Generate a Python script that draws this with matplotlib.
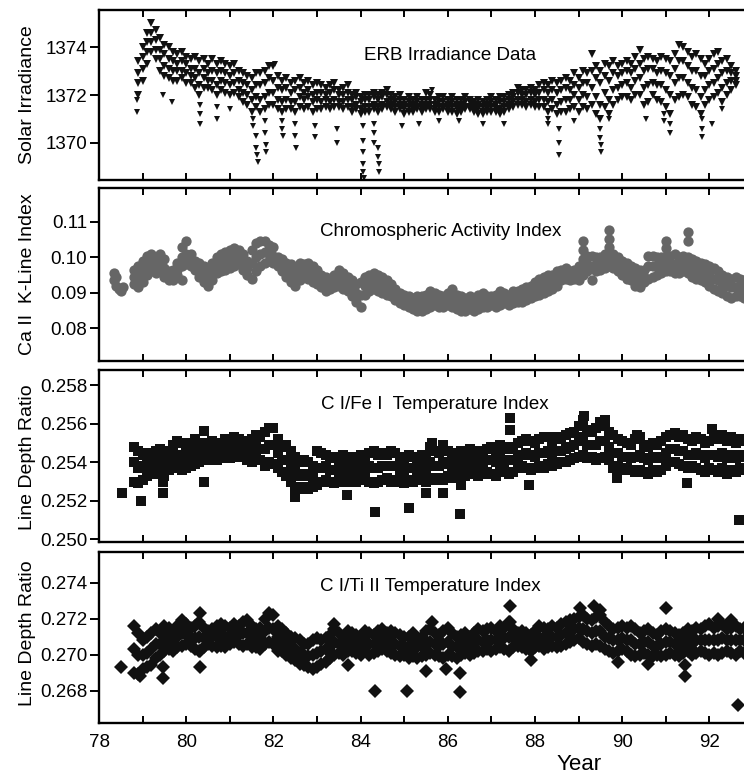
import numpy as np
import matplotlib
matplotlib.use('Agg')
import matplotlib.pyplot as plt

plt.rcParams['font.family'] = ['Liberation Sans', 'DejaVu Sans']

# ---------------- datos ----------------
# Panel 1: irradiancia ERB (muestreo cada 0.1 anyo, cuatro "franjas" de puntos)
erb_year = np.round(np.arange(78.9, 92.65, 0.1), 1)
erb_hi = [1373.4, 1374.0, 1374.6, 1375.0, 1374.7, 1374.4, 1374.1, 1374.0, 1373.8, 1373.7,
          1373.8, 1373.6, 1373.5, 1373.6, 1373.4, 1373.5, 1373.3, 1373.5, 1373.3, 1373.4,
          1373.3, 1373.2, 1373.3, 1373.0, 1372.9, 1372.8, 1372.7, 1372.9, 1372.9, 1373.0,
          1373.2, 1373.2, 1372.8, 1372.6, 1372.7, 1372.5, 1372.6, 1372.7, 1372.5, 1372.6,
          1372.4, 1372.5, 1372.4, 1372.3, 1372.4, 1372.5, 1372.2, 1372.3, 1372.4, 1372.0,
          1372.1, 1371.9, 1372.0, 1372.0, 1372.1, 1372.0, 1372.1, 1372.2, 1372.0, 1371.9,
          1372.0, 1371.8, 1371.9, 1371.8, 1371.9, 1371.8, 1372.1, 1372.0, 1371.8, 1371.9,
          1371.9, 1371.8, 1371.9, 1371.8, 1371.8, 1371.9, 1371.8, 1371.7, 1371.8, 1371.7,
          1371.8, 1371.9, 1371.8, 1371.9, 1371.9, 1372.0, 1372.1, 1372.3, 1372.2, 1372.2,
          1372.3, 1372.2, 1372.4, 1372.5, 1372.4, 1372.6, 1372.5, 1372.6, 1372.7, 1372.6,
          1372.9, 1372.7, 1373.0, 1372.9, 1373.7, 1373.2, 1373.0, 1373.3, 1373.2, 1373.4,
          1373.2, 1373.3, 1373.4, 1373.3, 1373.6, 1373.9, 1373.5, 1373.6, 1373.5, 1373.4,
          1373.6, 1373.5, 1373.4, 1373.7, 1374.1, 1374.0, 1373.8, 1373.6, 1373.7, 1373.5,
          1373.3, 1373.5, 1373.7, 1373.8, 1373.4, 1373.5, 1373.2, 1373.0]
erb_u = [1372.9, 1373.6, 1374.2, 1374.6, 1374.3, 1373.9, 1373.7, 1373.5, 1373.4, 1373.3,
         1373.4, 1373.3, 1373.1, 1373.1, 1372.9, 1373.1, 1372.9, 1373.0, 1372.9, 1373.0,
         1372.9, 1372.8, 1372.9, 1372.6, 1372.5, 1372.4, 1372.2, 1372.4, 1372.4, 1372.5,
         1372.7, 1372.6, 1372.3, 1372.2, 1372.3, 1372.1, 1372.2, 1372.3, 1372.1, 1372.2,
         1372.0, 1372.1, 1372.1, 1372.0, 1372.1, 1372.2, 1372.0, 1372.0, 1372.1, 1371.8,
         1371.9, 1371.7, 1371.8, 1371.8, 1371.9, 1371.8, 1371.9, 1372.0, 1371.8, 1371.7,
         1371.8, 1371.6, 1371.7, 1371.6, 1371.7, 1371.6, 1371.8, 1371.8, 1371.6, 1371.7,
         1371.7, 1371.6, 1371.7, 1371.6, 1371.6, 1371.7, 1371.7, 1371.6, 1371.6, 1371.5,
         1371.6, 1371.7, 1371.6, 1371.7, 1371.7, 1371.8, 1371.9, 1372.1, 1372.0, 1372.0,
         1372.1, 1372.0, 1372.1, 1372.2, 1372.1, 1372.2, 1372.1, 1372.2, 1372.3, 1372.2,
         1372.4, 1372.3, 1372.5, 1372.5, 1373.0, 1372.7, 1372.5, 1372.8, 1372.6, 1372.9,
         1372.8, 1372.9, 1373.0, 1372.9, 1373.1, 1373.3, 1373.0, 1373.1, 1373.1, 1372.9,
         1373.0, 1372.9, 1372.8, 1373.1, 1373.4, 1373.4, 1373.2, 1373.0, 1373.0, 1372.8,
         1372.8, 1373.0, 1373.1, 1373.3, 1372.9, 1373.0, 1372.9, 1372.8]
erb_l = [1372.5, 1373.1, 1373.8, 1374.2, 1373.9, 1373.5, 1373.2, 1373.1, 1373.0, 1373.0,
         1373.0, 1372.9, 1372.8, 1372.7, 1372.4, 1372.7, 1372.6, 1372.6, 1372.4, 1372.6,
         1372.5, 1372.4, 1372.5, 1372.2, 1372.1, 1372.0, 1371.8, 1371.9, 1371.8, 1371.9,
         1372.1, 1372.1, 1371.8, 1371.7, 1371.8, 1371.7, 1371.7, 1371.9, 1371.8, 1371.9,
         1371.7, 1371.8, 1371.7, 1371.8, 1371.7, 1371.8, 1371.7, 1371.7, 1371.8, 1371.5,
         1371.6, 1371.4, 1371.5, 1371.5, 1371.6, 1371.5, 1371.6, 1371.7, 1371.6, 1371.5,
         1371.6, 1371.4, 1371.5, 1371.4, 1371.5, 1371.4, 1371.6, 1371.6, 1371.4, 1371.5,
         1371.5, 1371.4, 1371.5, 1371.4, 1371.4, 1371.5, 1371.5, 1371.4, 1371.4, 1371.3,
         1371.4, 1371.5, 1371.4, 1371.4, 1371.5, 1371.6, 1371.7, 1371.8, 1371.8, 1371.7,
         1371.8, 1371.7, 1371.8, 1371.8, 1371.7, 1371.8, 1371.6, 1371.7, 1371.8, 1371.8,
         1372.0, 1371.8, 1372.0, 1371.9, 1372.3, 1371.9, 1371.6, 1372.1, 1371.8, 1372.2,
         1372.3, 1372.4, 1372.5, 1372.3, 1372.6, 1372.7, 1372.3, 1372.4, 1372.5, 1372.4,
         1372.4, 1372.2, 1372.0, 1372.5, 1372.7, 1372.7, 1372.5, 1372.3, 1372.2, 1371.9,
         1372.2, 1372.4, 1372.5, 1372.7, 1372.3, 1372.5, 1372.6, 1372.6]
erb_lo = [1372.0, 1372.6, 1373.3, 1373.8, 1373.5, 1373.0, 1372.8, 1372.7, 1372.6, 1372.6,
          1372.7, 1372.5, 1372.5, 1372.3, 1372.0, 1372.3, 1372.3, 1372.2, 1372.0, 1372.2,
          1372.1, 1372.0, 1372.1, 1371.9, 1371.7, 1371.6, 1371.3, 1371.5, 1371.3, 1371.4,
          1371.6, 1371.6, 1371.4, 1371.3, 1371.4, 1371.4, 1371.3, 1371.5, 1371.4, 1371.5,
          1371.3, 1371.4, 1371.4, 1371.5, 1371.4, 1371.5, 1371.5, 1371.4, 1371.5, 1371.3,
          1371.4, 1371.2, 1371.3, 1371.3, 1371.4, 1371.3, 1371.4, 1371.5, 1371.4, 1371.3,
          1371.4, 1371.2, 1371.3, 1371.3, 1371.4, 1371.3, 1371.4, 1371.4, 1371.3, 1371.3,
          1371.4, 1371.3, 1371.3, 1371.2, 1371.3, 1371.4, 1371.4, 1371.3, 1371.2, 1371.2,
          1371.3, 1371.3, 1371.3, 1371.2, 1371.3, 1371.4, 1371.5, 1371.6, 1371.6, 1371.5,
          1371.6, 1371.5, 1371.5, 1371.5, 1371.3, 1371.4, 1371.2, 1371.3, 1371.3, 1371.4,
          1371.5, 1371.3, 1371.5, 1371.4, 1371.6, 1371.2, 1371.0, 1371.5, 1371.2, 1371.6,
          1371.8, 1371.9, 1371.9, 1371.8, 1372.0, 1372.0, 1371.6, 1371.7, 1372.0, 1371.8,
          1371.7, 1371.5, 1371.2, 1371.8, 1371.9, 1372.0, 1371.9, 1371.6, 1371.5, 1371.2,
          1371.6, 1371.8, 1371.9, 1372.1, 1371.7, 1372.0, 1372.2, 1372.4]
# caidas (manchas solares) y picos sueltos
erb_dip_x = [78.87, 78.87, 79.47, 79.67, 80.32, 80.32, 80.32, 80.70, 80.70, 81.00,
             81.53, 81.53, 81.60, 81.60, 81.62, 81.65, 81.80, 81.80, 81.82, 81.82,
             82.04, 82.20, 82.20, 82.22, 82.50, 82.50, 82.52, 82.95, 82.95, 83.46,
             83.46, 84.05, 84.05, 84.05, 84.06, 84.06, 84.07, 84.30, 84.30, 84.30,
             84.40, 84.40, 84.42, 84.42, 84.95, 85.34, 85.64, 85.80, 86.26, 86.80,
             87.30, 88.30, 88.30, 88.55, 88.55, 88.56, 88.90, 89.50, 89.50, 89.52,
             89.52, 89.70, 90.55, 90.95, 90.95, 91.10, 91.10, 91.83, 91.83, 91.84,
             92.06, 92.29]
erb_dip_y = [1371.8, 1371.3, 1372.0, 1371.7, 1371.6, 1371.2, 1370.8, 1371.5, 1371.0, 1371.4,
             1371.0, 1370.7, 1370.3, 1369.8, 1369.5, 1369.2, 1370.9, 1370.4, 1369.9, 1369.6,
             1373.3, 1370.9, 1370.6, 1370.3, 1370.8, 1370.3, 1369.8, 1370.7, 1370.25, 1370.6,
             1370.0, 1370.7, 1370.1, 1369.6, 1369.1, 1368.8, 1368.55, 1370.8, 1370.4, 1370.0,
             1369.8, 1369.4, 1369.1, 1368.8, 1370.7, 1370.8, 1372.2, 1370.9, 1370.9, 1370.8,
             1370.8, 1371.0, 1370.8, 1370.6, 1370.0, 1369.5, 1370.9, 1370.6, 1370.2, 1369.9,
             1369.6, 1371.0, 1371.0, 1371.2, 1370.9, 1370.8, 1370.4, 1371.0, 1370.6, 1370.25,
             1370.8, 1371.4]

# Paneles 2-4: muestreo cada 0.1 anyo de 78.8 a 92.8
idx_year = np.round(np.arange(78.8, 92.85, 0.1), 1)

# Panel 2: indice de la linea K del Ca II
ca_hi = [0.0965, 0.0975, 0.0990, 0.1005, 0.1010, 0.1000, 0.1010, 0.0995, 0.0960, 0.0965,
         0.0985, 0.1030, 0.1045, 0.1010, 0.0990, 0.0985, 0.0975, 0.0965, 0.0985, 0.1000,
         0.1010, 0.1015, 0.1020, 0.1025, 0.1020, 0.1010, 0.0990, 0.1020, 0.1040, 0.1045,
         0.1045, 0.1035, 0.1030, 0.1000, 0.0995, 0.0985, 0.0980, 0.0970, 0.0985, 0.0980,
         0.0985, 0.0975, 0.0965, 0.0950, 0.0945, 0.0940, 0.0950, 0.0965, 0.0955, 0.0945,
         0.0935, 0.0925, 0.0930, 0.0945, 0.0950, 0.0955, 0.0950, 0.0945, 0.0935, 0.0925,
         0.0910, 0.0900, 0.0895, 0.0890, 0.0885, 0.0890, 0.0890, 0.0895, 0.0905, 0.0900,
         0.0895, 0.0890, 0.0900, 0.0910, 0.0895, 0.0890, 0.0885, 0.0890, 0.0885, 0.0895,
         0.0900, 0.0890, 0.0890, 0.0895, 0.0905, 0.0900, 0.0895, 0.0905, 0.0905, 0.0910,
         0.0915, 0.0920, 0.0930, 0.0940, 0.0945, 0.0950, 0.0950, 0.0960, 0.0965, 0.0970,
         0.0960, 0.0965, 0.0975, 0.0995, 0.1005, 0.1005, 0.1000, 0.1000, 0.1010, 0.1010,
         0.1010, 0.1000, 0.0990, 0.0985, 0.0975, 0.0970, 0.0965, 0.0965, 0.1005, 0.1005,
         0.1000, 0.1000, 0.1005, 0.1005, 0.1010, 0.1000, 0.1005, 0.1000, 0.0995, 0.0990,
         0.0985, 0.0980, 0.0975, 0.0970, 0.0960, 0.0950, 0.0945, 0.0940, 0.0945, 0.0940,
         0.0935]
ca_mid = [0.0945, 0.0945, 0.0960, 0.0975, 0.0985, 0.0975, 0.0985, 0.0970, 0.0945, 0.0950,
          0.0965, 0.1000, 0.1010, 0.0990, 0.0980, 0.0965, 0.0955, 0.0945, 0.0960, 0.0975,
          0.0985, 0.0990, 0.0995, 0.1000, 0.1000, 0.0985, 0.0970, 0.0985, 0.1000, 0.1010,
          0.1015, 0.1010, 0.1005, 0.0990, 0.0975, 0.0965, 0.0955, 0.0945, 0.0960, 0.0960,
          0.0960, 0.0950, 0.0945, 0.0930, 0.0925, 0.0925, 0.0930, 0.0940, 0.0930, 0.0925,
          0.0910, 0.0900, 0.0895, 0.0920, 0.0925, 0.0930, 0.0925, 0.0920, 0.0915, 0.0905,
          0.0895, 0.0885, 0.0880, 0.0875, 0.0870, 0.0870, 0.0870, 0.0875, 0.0880, 0.0880,
          0.0875, 0.0875, 0.0880, 0.0885, 0.0875, 0.0870, 0.0865, 0.0870, 0.0865, 0.0875,
          0.0880, 0.0875, 0.0875, 0.0880, 0.0885, 0.0885, 0.0880, 0.0885, 0.0890, 0.0890,
          0.0895, 0.0900, 0.0910, 0.0915, 0.0920, 0.0925, 0.0930, 0.0940, 0.0950, 0.0955,
          0.0950, 0.0950, 0.0955, 0.0970, 0.0980, 0.0970, 0.0980, 0.0985, 0.0990, 0.0990,
          0.0990, 0.0980, 0.0970, 0.0960, 0.0955, 0.0945, 0.0940, 0.0945, 0.0975, 0.0975,
          0.0975, 0.0980, 0.0980, 0.0985, 0.0980, 0.0975, 0.0980, 0.0975, 0.0970, 0.0965,
          0.0960, 0.0955, 0.0950, 0.0940, 0.0935, 0.0925, 0.0920, 0.0915, 0.0915, 0.0915,
          0.0910]
ca_lo = [0.0925, 0.0915, 0.0930, 0.0950, 0.0960, 0.0955, 0.0960, 0.0945, 0.0935, 0.0935,
         0.0950, 0.0975, 0.0980, 0.0975, 0.0965, 0.0945, 0.0930, 0.0920, 0.0935, 0.0955,
         0.0960, 0.0965, 0.0970, 0.0975, 0.0980, 0.0965, 0.0950, 0.0940, 0.0960, 0.0975,
         0.0985, 0.0990, 0.0985, 0.0975, 0.0960, 0.0945, 0.0930, 0.0920, 0.0935, 0.0945,
         0.0940, 0.0930, 0.0925, 0.0915, 0.0905, 0.0910, 0.0915, 0.0920, 0.0910, 0.0905,
         0.0890, 0.0875, 0.0860, 0.0895, 0.0905, 0.0910, 0.0905, 0.0900, 0.0895, 0.0890,
         0.0880, 0.0870, 0.0865, 0.0860, 0.0855, 0.0850, 0.0850, 0.0855, 0.0860, 0.0865,
         0.0860, 0.0860, 0.0865, 0.0860, 0.0855, 0.0850, 0.0850, 0.0855, 0.0850, 0.0855,
         0.0860, 0.0860, 0.0865, 0.0860, 0.0865, 0.0870, 0.0865, 0.0870, 0.0875, 0.0875,
         0.0880, 0.0885, 0.0890, 0.0895, 0.0900, 0.0905, 0.0910, 0.0920, 0.0935, 0.0940,
         0.0935, 0.0940, 0.0935, 0.0950, 0.0960, 0.0935, 0.0960, 0.0965, 0.0970, 0.0975,
         0.0970, 0.0960, 0.0950, 0.0940, 0.0935, 0.0920, 0.0915, 0.0930, 0.0940, 0.0945,
         0.0950, 0.0955, 0.0960, 0.0960, 0.0955, 0.0955, 0.0960, 0.0955, 0.0945, 0.0940,
         0.0935, 0.0930, 0.0920, 0.0910, 0.0905, 0.0900, 0.0890, 0.0885, 0.0890, 0.0890,
         0.0885]
ca_extra_x = [78.35, 78.35, 78.40, 78.40, 78.45, 78.50, 78.55, 89.10, 89.10, 89.70,
              89.70, 89.70, 91.00, 91.00, 91.50, 91.50, 79.90]
ca_extra_y = [0.0955, 0.0935, 0.0945, 0.0920, 0.0910, 0.0905, 0.0915, 0.1045, 0.1020, 0.1077,
              0.1052, 0.1030, 0.1045, 0.1025, 0.1070, 0.1047, 0.0937]

# Panel 3: cociente C I / Fe I
fe_hi = [0.2548, 0.2546, 0.2544, 0.2545, 0.2543, 0.2546, 0.2547, 0.2545, 0.2546, 0.2549,
         0.2551, 0.2550, 0.2548, 0.2550, 0.2552, 0.2549, 0.2550, 0.2548, 0.2551, 0.2549,
         0.2550, 0.2552, 0.2551, 0.2553, 0.2552, 0.2551, 0.2550, 0.2552, 0.2554, 0.2553,
         0.2556, 0.2558, 0.2558, 0.2552, 0.2548, 0.2549, 0.2546, 0.2543, 0.2540, 0.2541,
         0.2540, 0.2538, 0.2546, 0.2545, 0.2544, 0.2542, 0.2543, 0.2540, 0.2544, 0.2542,
         0.2543, 0.2541, 0.2544, 0.2542, 0.2545, 0.2546, 0.2544, 0.2545, 0.2544, 0.2546,
         0.2545, 0.2543, 0.2541, 0.2544, 0.2543, 0.2542, 0.2544, 0.2543, 0.2548, 0.2546,
         0.2545, 0.2549, 0.2546, 0.2543, 0.2545, 0.2546, 0.2544, 0.2547, 0.2546, 0.2545,
         0.2546, 0.2547, 0.2548, 0.2546, 0.2549, 0.2547, 0.2548, 0.2547, 0.2550, 0.2551,
         0.2552, 0.2551, 0.2550, 0.2552, 0.2553, 0.2553, 0.2551, 0.2553, 0.2552, 0.2554,
         0.2555, 0.2556, 0.2559, 0.2562, 0.2557, 0.2556, 0.2558, 0.2561, 0.2559, 0.2556,
         0.2554, 0.2552, 0.2551, 0.2550, 0.2549, 0.2552, 0.2553, 0.2549, 0.2548, 0.2550,
         0.2549, 0.2551, 0.2553, 0.2554, 0.2555, 0.2553, 0.2554, 0.2552, 0.2551, 0.2553,
         0.2552, 0.2550, 0.2551, 0.2553, 0.2552, 0.2554, 0.2551, 0.2553, 0.2550, 0.2552,
         0.2551]
fe_mid = [0.2540, 0.2537, 0.2538, 0.2539, 0.2538, 0.2541, 0.2540, 0.2539, 0.2541, 0.2543,
          0.2544, 0.2543, 0.2542, 0.2544, 0.2546, 0.2544, 0.2545, 0.2544, 0.2546, 0.2545,
          0.2546, 0.2548, 0.2546, 0.2548, 0.2548, 0.2547, 0.2545, 0.2546, 0.2548, 0.2547,
          0.2547, 0.2549, 0.2549, 0.2545, 0.2541, 0.2541, 0.2538, 0.2535, 0.2533, 0.2534,
          0.2533, 0.2532, 0.2537, 0.2537, 0.2538, 0.2536, 0.2536, 0.2535, 0.2538, 0.2536,
          0.2537, 0.2535, 0.2538, 0.2536, 0.2538, 0.2537, 0.2537, 0.2538, 0.2538, 0.2538,
          0.2538, 0.2536, 0.2535, 0.2537, 0.2537, 0.2537, 0.2538, 0.2536, 0.2540, 0.2538,
          0.2538, 0.2540, 0.2539, 0.2538, 0.2539, 0.2540, 0.2538, 0.2541, 0.2540, 0.2539,
          0.2540, 0.2541, 0.2541, 0.2540, 0.2542, 0.2541, 0.2541, 0.2541, 0.2543, 0.2544,
          0.2545, 0.2544, 0.2543, 0.2545, 0.2545, 0.2546, 0.2544, 0.2546, 0.2546, 0.2547,
          0.2548, 0.2549, 0.2551, 0.2553, 0.2549, 0.2549, 0.2549, 0.2551, 0.2551, 0.2548,
          0.2545, 0.2545, 0.2543, 0.2543, 0.2542, 0.2543, 0.2544, 0.2542, 0.2541, 0.2543,
          0.2542, 0.2543, 0.2545, 0.2547, 0.2547, 0.2546, 0.2546, 0.2544, 0.2544, 0.2545,
          0.2544, 0.2542, 0.2544, 0.2544, 0.2543, 0.2545, 0.2542, 0.2544, 0.2542, 0.2544,
          0.2543]
fe_lo = [0.2530, 0.2529, 0.2531, 0.2533, 0.2534, 0.2535, 0.2534, 0.2533, 0.2536, 0.2537,
         0.2538, 0.2536, 0.2537, 0.2538, 0.2539, 0.2540, 0.2541, 0.2541, 0.2542, 0.2541,
         0.2542, 0.2543, 0.2542, 0.2543, 0.2544, 0.2543, 0.2541, 0.2540, 0.2542, 0.2541,
         0.2538, 0.2540, 0.2539, 0.2537, 0.2535, 0.2533, 0.2530, 0.2527, 0.2526, 0.2527,
         0.2526, 0.2527, 0.2528, 0.2530, 0.2531, 0.2530, 0.2529, 0.2530, 0.2532, 0.2530,
         0.2531, 0.2530, 0.2532, 0.2531, 0.2530, 0.2529, 0.2530, 0.2531, 0.2532, 0.2530,
         0.2531, 0.2530, 0.2529, 0.2531, 0.2530, 0.2532, 0.2531, 0.2530, 0.2532, 0.2531,
         0.2532, 0.2531, 0.2533, 0.2532, 0.2533, 0.2534, 0.2533, 0.2535, 0.2534, 0.2533,
         0.2534, 0.2535, 0.2534, 0.2533, 0.2535, 0.2536, 0.2534, 0.2535, 0.2537, 0.2538,
         0.2537, 0.2536, 0.2537, 0.2538, 0.2537, 0.2539, 0.2538, 0.2539, 0.2540, 0.2540,
         0.2541, 0.2542, 0.2543, 0.2544, 0.2542, 0.2543, 0.2541, 0.2542, 0.2543, 0.2541,
         0.2537, 0.2538, 0.2536, 0.2537, 0.2536, 0.2535, 0.2536, 0.2535, 0.2534, 0.2536,
         0.2535, 0.2536, 0.2538, 0.2540, 0.2540, 0.2539, 0.2538, 0.2537, 0.2538, 0.2537,
         0.2536, 0.2535, 0.2537, 0.2536, 0.2535, 0.2537, 0.2534, 0.2536, 0.2535, 0.2537,
         0.2536]
fe_extra_x = [78.53, 78.96, 79.47, 79.47, 80.40, 80.40, 82.50, 83.68, 84.33, 85.10,
              85.50, 85.64, 85.90, 86.28, 86.30, 87.43, 87.43, 87.86, 89.12, 89.60,
              89.88, 90.35, 91.49, 92.06, 92.68]
fe_extra_y = [0.2524, 0.2520, 0.2530, 0.2524, 0.25565, 0.2530, 0.2522, 0.2523, 0.2514, 0.2516,
              0.2524, 0.2550, 0.2524, 0.2513, 0.2528, 0.2563, 0.2557, 0.2528, 0.2564, 0.2562,
              0.2532, 0.2554, 0.2529, 0.25575, 0.2510]

# Panel 4: cociente C I / Ti II
ti_hi = [0.2716, 0.2712, 0.2708, 0.2710, 0.2712, 0.2714, 0.2712, 0.2711, 0.2715, 0.2712,
         0.2716, 0.2719, 0.2717, 0.2715, 0.2716, 0.2718, 0.2715, 0.2713, 0.2714, 0.2716,
         0.2717, 0.2716, 0.2715, 0.2717, 0.2716, 0.2718, 0.2719, 0.2716, 0.2714, 0.2715,
         0.2720, 0.2723, 0.2722, 0.2716, 0.2714, 0.2712, 0.2710, 0.2709, 0.2708, 0.2706,
         0.2706, 0.2708, 0.2709, 0.2708, 0.2709, 0.2711, 0.2714, 0.2712, 0.2710, 0.2713,
         0.2712, 0.2711, 0.2710, 0.2713, 0.2712, 0.2711, 0.2713, 0.2714, 0.2712, 0.2713,
         0.2712, 0.2711, 0.2710, 0.2710, 0.2712, 0.2709, 0.2710, 0.2713, 0.2714, 0.2712,
         0.2711, 0.2713, 0.2715, 0.2712, 0.2710, 0.2711, 0.2712, 0.2710, 0.2712, 0.2714,
         0.2713, 0.2714, 0.2715, 0.2713, 0.2716, 0.2715, 0.2718, 0.2714, 0.2712, 0.2713,
         0.2712, 0.2711, 0.2713, 0.2716, 0.2715, 0.2714, 0.2716, 0.2715, 0.2717, 0.2718,
         0.2719, 0.2720, 0.2721, 0.2722, 0.2720, 0.2719, 0.2721, 0.2722, 0.2718, 0.2716,
         0.2714, 0.2715, 0.2716, 0.2715, 0.2716, 0.2714, 0.2712, 0.2713, 0.2714, 0.2712,
         0.2711, 0.2713, 0.2714, 0.2713, 0.2712, 0.2711, 0.2712, 0.2714, 0.2713, 0.2715,
         0.2714, 0.2716, 0.2717, 0.2715, 0.2716, 0.2717, 0.2714, 0.2715, 0.2716, 0.2714,
         0.2715]
ti_mid = [0.2703, 0.2700, 0.2700, 0.2701, 0.2703, 0.2706, 0.2706, 0.2707, 0.2709, 0.2707,
          0.2710, 0.2712, 0.2711, 0.2710, 0.2709, 0.2710, 0.2709, 0.2709, 0.2710, 0.2710,
          0.2711, 0.2710, 0.2711, 0.2712, 0.2711, 0.2712, 0.2712, 0.2710, 0.2709, 0.2709,
          0.2713, 0.2715, 0.2714, 0.2710, 0.2708, 0.2706, 0.2704, 0.2703, 0.2701, 0.2700,
          0.2699, 0.2700, 0.2701, 0.2702, 0.2703, 0.2704, 0.2707, 0.2706, 0.2705, 0.2707,
          0.2707, 0.2706, 0.2705, 0.2707, 0.2706, 0.2706, 0.2707, 0.2708, 0.2707, 0.2707,
          0.2706, 0.2705, 0.2705, 0.2704, 0.2705, 0.2704, 0.2705, 0.2706, 0.2707, 0.2706,
          0.2705, 0.2706, 0.2707, 0.2705, 0.2704, 0.2705, 0.2706, 0.2705, 0.2706, 0.2708,
          0.2707, 0.2708, 0.2708, 0.2708, 0.2710, 0.2709, 0.2710, 0.2709, 0.2708, 0.2708,
          0.2707, 0.2707, 0.2708, 0.2710, 0.2709, 0.2709, 0.2710, 0.2710, 0.2711, 0.2712,
          0.2713, 0.2714, 0.2715, 0.2714, 0.2713, 0.2712, 0.2713, 0.2713, 0.2710, 0.2709,
          0.2708, 0.2708, 0.2709, 0.2708, 0.2708, 0.2706, 0.2706, 0.2707, 0.2707, 0.2705,
          0.2705, 0.2706, 0.2707, 0.2707, 0.2706, 0.2705, 0.2706, 0.2708, 0.2706, 0.2708,
          0.2708, 0.2708, 0.2708, 0.2708, 0.2708, 0.2709, 0.2708, 0.2708, 0.2708, 0.2708,
          0.2708]
ti_lo = [0.2690, 0.2689, 0.2692, 0.2693, 0.2694, 0.2698, 0.2700, 0.2702, 0.2703, 0.2702,
         0.2704, 0.2705, 0.2706, 0.2705, 0.2703, 0.2702, 0.2704, 0.2706, 0.2705, 0.2704,
         0.2705, 0.2704, 0.2706, 0.2707, 0.2706, 0.2705, 0.2706, 0.2704, 0.2704, 0.2703,
         0.2706, 0.2707, 0.2706, 0.2704, 0.2702, 0.2700, 0.2698, 0.2697, 0.2695, 0.2694,
         0.2693, 0.2692, 0.2693, 0.2695, 0.2696, 0.2698, 0.2700, 0.2701, 0.2700, 0.2702,
         0.2702, 0.2701, 0.2700, 0.2702, 0.2700, 0.2701, 0.2702, 0.2703, 0.2702, 0.2701,
         0.2700, 0.2699, 0.2700, 0.2698, 0.2699, 0.2698, 0.2699, 0.2700, 0.2701, 0.2700,
         0.2699, 0.2698, 0.2700, 0.2699, 0.2698, 0.2700, 0.2701, 0.2700, 0.2701, 0.2702,
         0.2702, 0.2703, 0.2702, 0.2703, 0.2704, 0.2703, 0.2702, 0.2704, 0.2705, 0.2704,
         0.2703, 0.2702, 0.2704, 0.2705, 0.2703, 0.2704, 0.2705, 0.2704, 0.2705, 0.2706,
         0.2707, 0.2708, 0.2709, 0.2707, 0.2706, 0.2705, 0.2706, 0.2705, 0.2703, 0.2702,
         0.2701, 0.2702, 0.2703, 0.2702, 0.2700, 0.2699, 0.2700, 0.2701, 0.2700, 0.2699,
         0.2700, 0.2699, 0.2700, 0.2701, 0.2700, 0.2699, 0.2701, 0.2702, 0.2700, 0.2701,
         0.2702, 0.2701, 0.2700, 0.2701, 0.2700, 0.2701, 0.2702, 0.2701, 0.2700, 0.2702,
         0.2701]
ti_extra_x = [78.50, 78.94, 79.47, 79.47, 79.50, 80.32, 80.32, 80.32, 82.10, 83.40,
              83.70, 84.33, 85.06, 85.50, 85.64, 85.95, 86.28, 86.28, 87.43, 87.43,
              87.90, 89.03, 89.35, 89.50, 89.90, 90.60, 91.00, 91.44, 91.44, 92.66,
              92.20, 92.50]
ti_extra_y = [0.2693, 0.2688, 0.2693, 0.2687, 0.2716, 0.2723, 0.2702, 0.2693, 0.2702, 0.2717,
              0.2694, 0.2680, 0.2680, 0.2691, 0.2718, 0.2692, 0.2690, 0.2679, 0.2727, 0.2718,
              0.2697, 0.2726, 0.2727, 0.2725, 0.2696, 0.2695, 0.2726, 0.2694, 0.2688, 0.2672,
              0.2720, 0.2719]

# ---------------- figura ----------------
fig = plt.figure(figsize=(7.44, 7.76), dpi=100)

left = 99 / 744
width = 654 / 744     # el eje llega a 93, la figura lo corta por la derecha
rects = [(left, 0.768, width, 0.2191),
         (left, 0.5348, width, 0.2229),
         (left, 0.3015, width, 0.2216),
         (left, 0.0683, width, 0.2204)]
axs = [fig.add_axes(r) for r in rects]

black = '#111111'
gray = '#666666'

ax = axs[0]
for s in [erb_hi, erb_u, erb_l, erb_lo]:
    ax.plot(erb_year, s, 'v', color=black, ms=5.8, mew=0)
ax.plot(erb_dip_x, erb_dip_y, 'v', color=black, ms=5, mew=0)
ax.set_ylim(1368.45, 1375.55)
ax.set_yticks([1370, 1372, 1374])
ax.text(0.537, 0.732, 'ERB Irradiance Data', transform=ax.transAxes,
        ha='center', va='center', fontsize=13.5)

ax = axs[1]
for s in [ca_hi, ca_mid, ca_lo]:
    ax.plot(idx_year, s, 'o', color=gray, ms=7.4, mew=0)
ax.plot(ca_extra_x, ca_extra_y, 'o', color=gray, ms=7.4, mew=0)
ax.set_ylim(0.0708, 0.1195)
ax.set_yticks([0.08, 0.09, 0.10, 0.11])
ax.set_yticklabels(['0.08', '0.09', '0.10', '0.11'])
ax.text(0.523, 0.751, 'Chromospheric Activity Index', transform=ax.transAxes,
        ha='center', va='center', fontsize=13.5)

ax = axs[2]
for s in [fe_hi, fe_mid, fe_lo]:
    ax.plot(idx_year, s, 's', color=black, ms=7.6, mew=0)
ax.plot(fe_extra_x, fe_extra_y, 's', color=black, ms=7, mew=0)
ax.set_ylim(0.24985, 0.2588)
ax.set_yticks([0.250, 0.252, 0.254, 0.256, 0.258])
ax.set_yticklabels(['0.250', '0.252', '0.254', '0.256', '0.258'])
ax.text(0.514, 0.797, 'C I/Fe I  Temperature Index', transform=ax.transAxes,
        ha='center', va='center', fontsize=13.5)

ax = axs[3]
for s in [ti_hi, ti_mid, ti_lo]:
    ax.plot(idx_year, s, 'D', color=black, ms=7.4, mew=0)
ax.plot(ti_extra_x, ti_extra_y, 'D', color=black, ms=7.4, mew=0)
ax.set_ylim(0.2662, 0.2757)
ax.set_yticks([0.268, 0.270, 0.272, 0.274])
ax.set_yticklabels(['0.268', '0.270', '0.272', '0.274'])
ax.text(0.506, 0.801, 'C I/Ti II Temperature Index', transform=ax.transAxes,
        ha='center', va='center', fontsize=13.5)

for i, ax in enumerate(axs):
    ax.set_xlim(78, 93)
    ax.set_xticks(np.arange(78, 94, 1))
    for sp in ax.spines.values():
        sp.set_linewidth(1.7)
    ax.tick_params(axis='x', which='both', direction='in', top=True, bottom=True,
                   length=5, width=1.4, labelsize=13.5, pad=8)
    ax.tick_params(axis='y', direction='out', right=False, length=6.5, width=1.4,
                   labelsize=13.5, pad=2)
    if i < 3:
        ax.tick_params(axis='x', labelbottom=False)

axs[3].set_xticklabels([str(v) if v % 2 == 0 else '' for v in range(78, 94)])

ylabels = ['Solar Irradiance', 'Ca II  K-Line Index', 'Line Depth Ratio', 'Line Depth Ratio']
ypos = [0.8776, 0.647, 0.411, 0.184]
for lab, yp in zip(ylabels, ypos):
    fig.text(27 / 744, yp, lab, rotation=90, ha='center', va='center', fontsize=14)

fig.text(579 / 744, 1 - 764 / 776, 'Year', ha='center', va='center', fontsize=16)

fig.savefig('out.png', dpi=100)
